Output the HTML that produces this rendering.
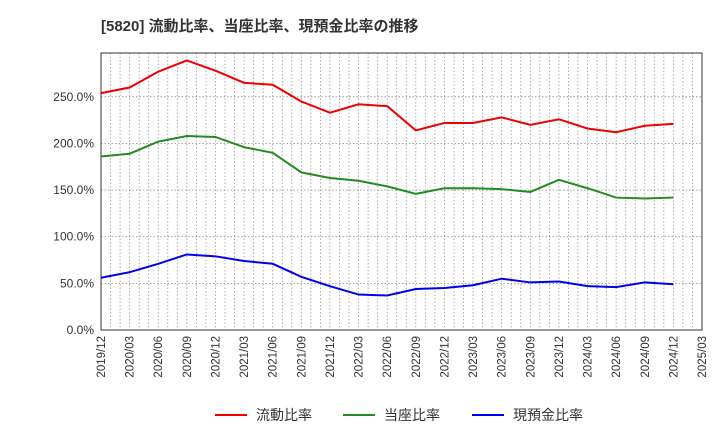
<!DOCTYPE html>
<html><head><meta charset="utf-8"><style>
body{margin:0;background:#fff;font-family:"Liberation Sans","Noto Sans CJK JP",sans-serif;}
</style></head><body>
<svg width="720" height="440" xmlns="http://www.w3.org/2000/svg">
<text x="101" y="31" font-size="15" font-weight="bold" fill="#333" font-family="Liberation Sans, Noto Sans CJK JP, sans-serif">[5820]  流動比率、当座比率、現預金比率の推移</text>
<g id="grid"></g><g id="axes"></g><g id="series"></g>
<g font-size="14" fill="#333">
<line x1="215" y1="415" x2="247" y2="415" stroke="#e00" stroke-width="2"/>
<text x="256" y="420">流動比率</text>
<line x1="343" y1="415" x2="375" y2="415" stroke="#228b22" stroke-width="2"/>
<text x="384" y="420">当座比率</text>
<line x1="472" y1="415" x2="504" y2="415" stroke="#00e" stroke-width="2"/>
<text x="513" y="420">現預金比率</text>
</g>
</svg>
<script>
const tickLabels=["2019/12","2020/03","2020/06","2020/09","2020/12","2021/03","2021/06","2021/09","2021/12","2022/03","2022/06","2022/09","2022/12","2023/03","2023/06","2023/09","2023/12","2024/03","2024/06","2024/09","2024/12","2025/03"];
const yTicks=[0,50,100,150,200,250];
const currentRatio=[254,260,277,289,278,265,263,245,233,242,240,214,222,222,228,220,226,216,212,219,221];
const quickRatio=[186,189,202,208,207,196,190,169,163,160,154,146,152,152,151,148,161,152,142,141,142];
const cashRatio=[56,62,71,81,79,74,71,57,47,38,37,44,45,48,55,51,52,47,46,51,49];
const L=101,R=702,T=53,B=330,YMAX=297,NM=63;
const NS="http://www.w3.org/2000/svg";
const x=i=>L+(R-L)*(i*3)/NM, xm=m=>L+(R-L)*m/NM, y=v=>B-(B-T)*v/YMAX;
function mk(tag,attrs,parent){const e=document.createElementNS(NS,tag);for(const k in attrs)e.setAttribute(k,attrs[k]);document.getElementById(parent).appendChild(e);return e;}
for(let m=0;m<=NM;m++){const l=mk('line',{x1:xm(m),x2:xm(m),y1:T,y2:B,stroke:'#999','stroke-width':0.8,'stroke-dasharray':'1.5,2'},'grid');

}
yTicks.forEach(v=>{const l=mk('line',{x1:L,x2:R,y1:y(v),y2:y(v),stroke:'#888','stroke-width':0.8,'stroke-dasharray':'1.5,2'},'grid');


const t=mk('text',{x:L-7,y:y(v)+4,'text-anchor':'end','font-size':12,fill:'#333'},'axes');t.textContent=v.toFixed(1)+'%';

});
tickLabels.forEach((s,i)=>{const xx=x(i);const t=mk('text',{x:xx+4,y:B+6,'text-anchor':'end','font-size':11.5,fill:'#333',transform:`rotate(-90 ${xx+4} ${B+6})`},'axes');t.textContent=s;

});
const fr=mk('rect',{x:L,y:T,width:R-L,height:B-T,fill:'none',stroke:'#333','stroke-width':1},'axes');


[[currentRatio,'#e00','current-ratio-line'],[quickRatio,'#228b22','quick-ratio-line'],[cashRatio,'#00e','cash-ratio-line']].forEach(([d,c,n])=>{
const p=mk('polyline',{points:d.map((v,i)=>x(i)+','+y(v)).join(' '),fill:'none',stroke:c,'stroke-width':2},'series');

});
</script>
</body></html>
